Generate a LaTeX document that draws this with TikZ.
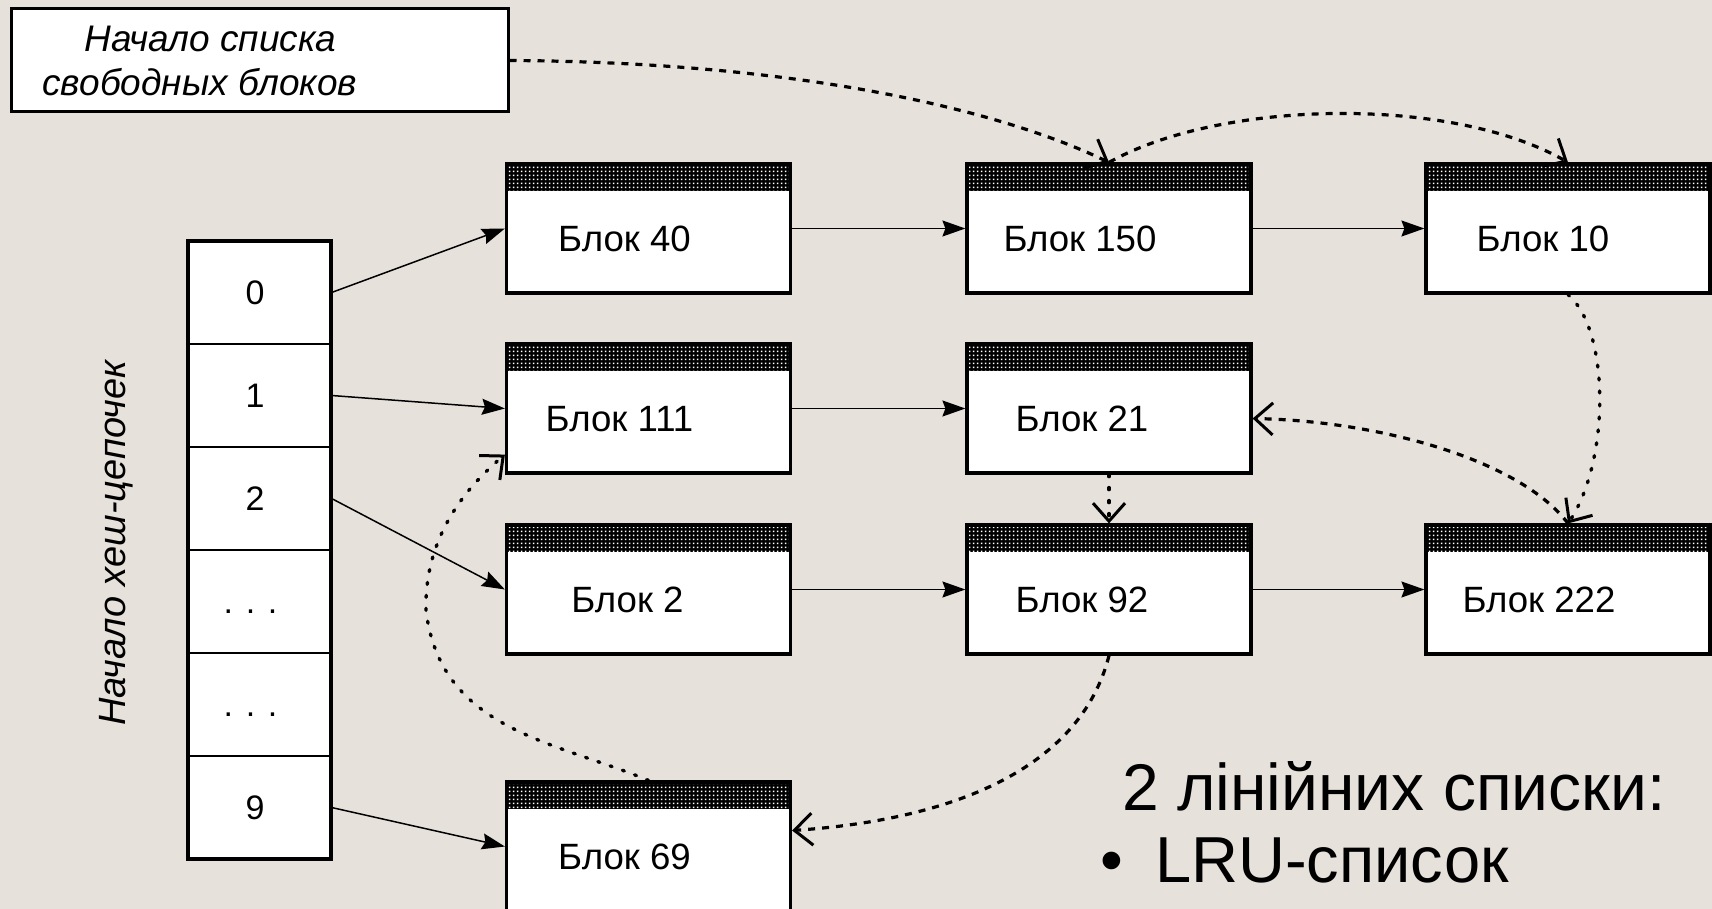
\documentclass[tikz,border=0pt]{standalone}
\usepackage{fontspec}
\setmainfont{Liberation Sans}
\usetikzlibrary{arrows.meta,patterns.meta}
\definecolor{bgc}{RGB}{231,225,219}
\tikzdeclarepattern{
  name=hdots,
  type=uncolored,
  bottom left={(0pt,0pt)},
  top right={(2pt,2pt)},
  tile size={(2pt,2pt)},
  code={\fill (0.5pt,0.5pt) rectangle (1.5pt,1.5pt);}
}
\tikzset{
  blk/.style={draw, line width=1.6pt, fill=white, minimum width=142pt,
    minimum height=64.5pt, inner sep=0pt,
    path picture={
      \fill[black] (path picture bounding box.north west) rectangle ([yshift=-13.5pt]path picture bounding box.north east);
      \fill[pattern=hdots, pattern color=white] (path picture bounding box.north west) rectangle ([yshift=-13.5pt]path picture bounding box.north east);
    }},
  lbl/.style={anchor=base, inner sep=0pt, font=\fontsize{18.3pt}{22pt}\selectfont},
  rowc/.style={draw, line width=0.6pt, fill=white, minimum width=71.5pt,
    minimum height=51.5pt, inner sep=0pt, font=\fontsize{17pt}{20pt}\selectfont},
  sarr/.style={line width=0.75pt, -{Stealth[length=11.5pt,width=8pt,inset=1.5pt]}},
  dsh/.style={line width=1.6pt, dash pattern=on 3.5pt off 3.5pt,
    -{Straight Barb[length=9pt,width=16pt,line width=1.5pt]}},
  dts/.style={line width=1.7pt, line cap=round, dash pattern=on 1pt off 5.5pt,
    -{Straight Barb[length=9pt,width=16pt,line width=1.5pt,line cap=butt]}},
}
\begin{document}
\begin{tikzpicture}[x=0.5pt,y=-0.5pt]
\fill[bgc] (0,0) rectangle (1712,909);
\useasboundingbox (0,0) rectangle (1712,909);

% free list head
\node[draw, line width=1.5pt, fill=white, minimum width=248.5pt, minimum height=51.5pt, inner sep=0pt] (free) at (259.5,60.5) {};
\node[anchor=base west, inner sep=0pt, font=\itshape\fontsize{18.5pt}{22pt}\selectfont] (f1) at (84,52) {Начало списка};
\node[anchor=base west, inner sep=0pt, font=\itshape\fontsize{18.5pt}{22pt}\selectfont] (f2) at (42,96) {свободных блоков};

% hash table
\node[rowc] (r0) at (259.5,292.5) {0\kern4.5pt};
\node[rowc] (r1) at (259.5,395.5) {1\kern4.5pt};
\node[rowc] (r2) at (259.5,498.5) {2\kern4.5pt};
\node[rowc] (r3) at (259.5,601.5) {\vphantom{0}. . .\kern9pt};
\node[rowc] (r4) at (259.5,704.5) {\vphantom{0}. . .\kern9pt};
\node[rowc] (r5) at (259.5,807.5) {9\kern4.5pt};
\node[draw, line width=1.6pt, minimum width=71.5pt, minimum height=309pt, inner sep=0pt] (tbl) at (259.5,550) {};
\node[rotate=90, inner sep=0pt, font=\itshape\fontsize{19pt}{22pt}\selectfont] (vt) at (116,543) {Начало хеш-цепочек};

% blocks
\node[blk] (b40)  at (648.5,228.5) {};
\node[blk] (b150) at (1109,228.5) {};
\node[blk] (b10)  at (1568,228.5) {};
\node[blk] (b111) at (648.5,408.5) {};
\node[blk] (b21)  at (1109,408.5) {};
\node[blk] (b2)   at (648.5,589.5) {};
\node[blk] (b92)  at (1109,589.5) {};
\node[blk] (b222) at (1568,589.5) {};
\node[blk] (b69)  at (648.5,846.5) {};

\node[lbl] (l40)  at ([xshift=-12pt,yshift=-11.5pt]b40.center) {Блок 40};
\node[lbl] (l150) at ([xshift=-14.5pt,yshift=-11.5pt]b150.center) {Блок 150};
\node[lbl] (l10)  at ([xshift=-12.5pt,yshift=-11.5pt]b10.center) {Блок 10};
\node[lbl] (l111) at ([xshift=-14.5pt,yshift=-11.5pt]b111.center) {Блок 111};
\node[lbl] (l21)  at ([xshift=-13.5pt,yshift=-11.5pt]b21.center) {Блок 21};
\node[lbl] (l2)   at ([xshift=-10.5pt,yshift=-11.5pt]b2.center) {Блок 2};
\node[lbl] (l92)  at ([xshift=-13.5pt,yshift=-11.5pt]b92.center) {Блок 92};
\node[lbl] (l222) at ([xshift=-14.5pt,yshift=-11.5pt]b222.center) {Блок 222};
\node[lbl] (l69)  at ([xshift=-12pt,yshift=-11.5pt]b69.center) {Блок 69};

% solid arrows
\draw[sarr] (r0.east) -- (b40.west);
\draw[sarr] (r1.east) -- (b111.west);
\draw[sarr] (r2.east) -- (b2.west);
\draw[sarr] (r5.east) -- (b69.west);
\draw[sarr] (b40.east) -- (b150.west);
\draw[sarr] (b150.east) -- (b10.west);
\draw[sarr] (b111.east) -- (b21.west);
\draw[sarr] (b2.east) -- (b92.west);
\draw[sarr] (b92.east) -- (b222.west);

% dashed / dotted curves
\draw[dsh] (free.east) .. controls (800,62) and (1000,110) .. (b150.north);
\draw[dsh] (b150.north) .. controls (1220,100) and (1450,95) .. (b10.north);
\draw[dts] (b10.south) .. controls (1610,330) and (1610,460) .. (b222.north);
\draw[dsh] (b222.north) .. controls (1520,460) and (1380,421) .. ([yshift=-5pt]b21.east);
\draw[dts] (b21.south) -- (b92.north);
\draw[dsh] (b92.south) .. controls (1080,770) and (950,820) .. ([yshift=8pt]b69.east);
\draw[dts] (b69.north) .. controls (554,741) and (440,730) .. (426,610) .. controls (424,530) and (475,480) .. ([yshift=10pt]b111.south west);

% bottom text
\node[anchor=base west, inner sep=0pt, font=\fontsize{33pt}{36pt}\selectfont] (t1) at (1122,810) {2 лінійних списки:};
\node[anchor=base west, inner sep=0pt, font=\fontsize{32.5pt}{36pt}\selectfont] (t2) at (1100,882) {•\hspace{7pt} LRU-список};
\end{tikzpicture}
\end{document}
